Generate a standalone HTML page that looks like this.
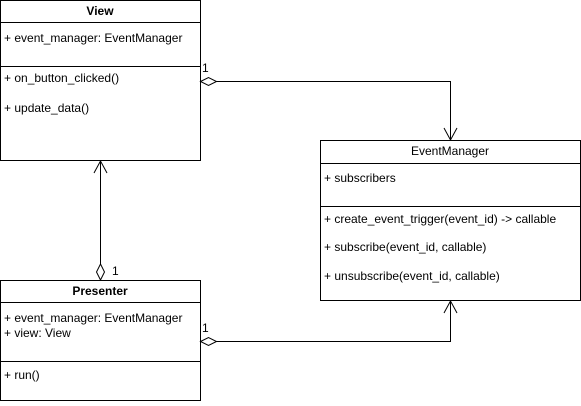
<!DOCTYPE html>
<html><head><style>
body{margin:0;background:#fff;}
svg text{font-family:"Liberation Sans",sans-serif;font-size:12px;fill:#000;}
</style></head><body>
<svg width="581" height="401" xmlns="http://www.w3.org/2000/svg">
<g fill="none" stroke="#000" stroke-width="1">
<rect x="0.5" y="0.5" width="200" height="160"/>
<line x1="0.5" y1="22.5" x2="200.5" y2="22.5"/>
<line x1="0.5" y1="66.5" x2="200.5" y2="66.5"/>
<rect x="320.5" y="140.5" width="260" height="160"/>
<line x1="320.5" y1="163.5" x2="580.5" y2="163.5"/>
<line x1="320.5" y1="206.5" x2="580.5" y2="206.5"/>
<rect x="0.5" y="280.5" width="200" height="120"/>
<line x1="0.5" y1="302.5" x2="200.5" y2="302.5"/>
<line x1="0.5" y1="361.5" x2="200.5" y2="361.5"/>
<path d="M200.5 81.5 L208.5 77.5 L216.5 81.5 L208.5 85.5 Z" fill="#fff"/>
<path d="M216.5 81.5 H450.5 V140"/>
<path d="M444 128 L450.5 140 L457 128"/>
<path d="M100.5 280 L96.5 272 L100.5 264 L104.5 272 Z" fill="#fff"/>
<path d="M100.5 264 V161"/>
<path d="M94 173 L100.5 161 L107 173"/>
<path d="M200.5 341.5 L208.5 337.5 L216.5 341.5 L208.5 345.5 Z" fill="#fff"/>
<path d="M216.5 341.5 H450.5 V301"/>
<path d="M444 313 L450.5 301 L457 313"/>
</g>
<text x="100" y="15" text-anchor="middle" font-weight="bold">View</text>
<text x="4" y="42">+ event_manager: EventManager</text>
<text x="4" y="82">+ on_button_clicked()</text>
<text x="4" y="112">+ update_data()</text>
<text x="450" y="155" text-anchor="middle">EventManager</text>
<text x="324" y="182">+ subscribers</text>
<text x="324" y="223">+ create_event_trigger(event_id) -&gt; callable</text>
<text x="324" y="251">+ subscribe(event_id, callable)</text>
<text x="324" y="280">+ unsubscribe(event_id, callable)</text>
<text x="100" y="295" text-anchor="middle" font-weight="bold">Presenter</text>
<text x="4" y="322">+ event_manager: EventManager</text>
<text x="4" y="337">+ view: View</text>
<text x="4" y="379">+ run()</text>
<text x="202" y="72">1</text>
<text x="112" y="275">1</text>
<text x="202" y="332">1</text>
</svg>
</body></html>
